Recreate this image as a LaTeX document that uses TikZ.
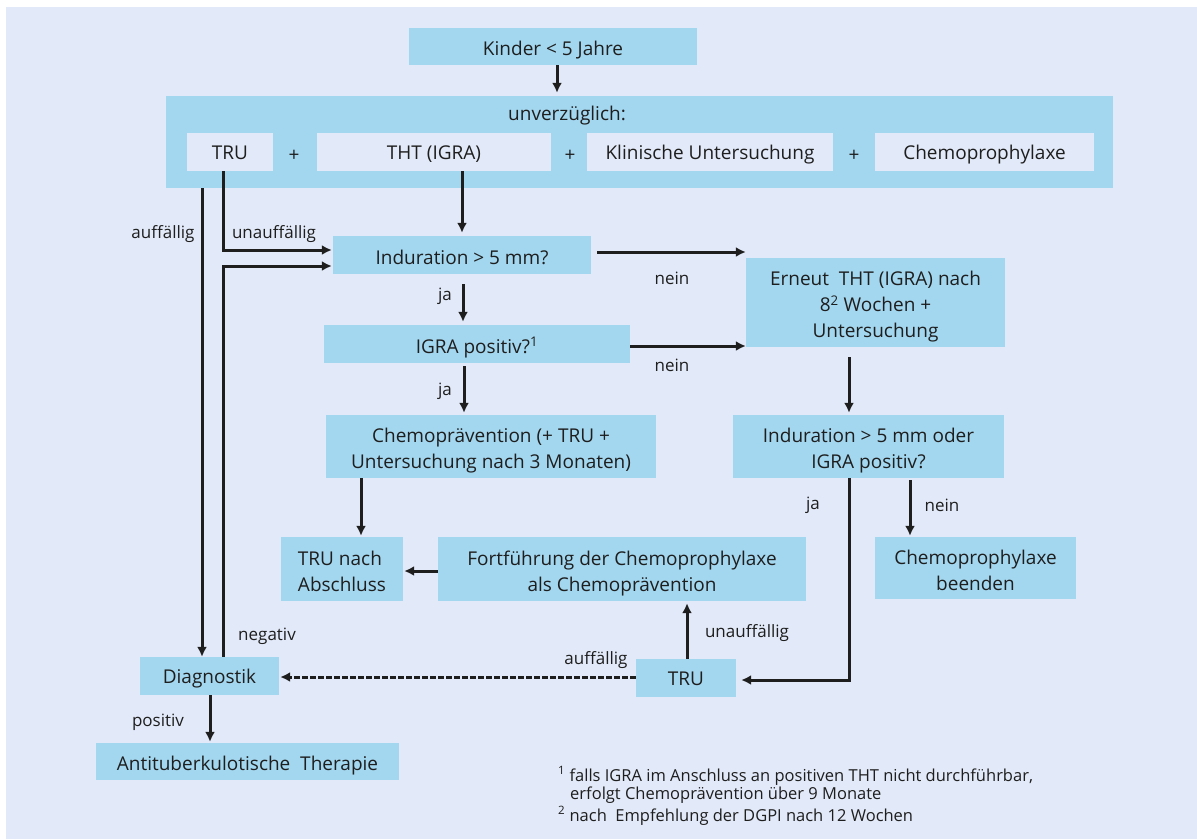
\documentclass[tikz,border=0pt]{standalone}
\usepackage{fontspec}
\setmainfont{Open Sans}
\usetikzlibrary{arrows.meta}
\definecolor{pagebg}{HTML}{E2E9F8}
\definecolor{boxblue}{HTML}{A3D7EF}
\definecolor{ink}{HTML}{1E1E1E}
\begin{document}
\begin{tikzpicture}[x=1pt,y=-1pt,
  every node/.style={text=ink},
  box/.style={fill=boxblue, inner sep=0pt, align=center,
    text height=18pt, text depth=0pt,
    font=\fontsize{19}{26}\selectfont},
  twolines/.style={text height=44pt},
  threelines/.style={text height=70pt},
  subbox/.style={fill=pagebg, inner sep=0pt, align=center,
    minimum height=38pt, text height=15pt, text depth=0pt,
    font=\fontsize{19}{26}\selectfont},
  plain/.style={inner sep=0pt, font=\fontsize{19}{22}\selectfont},
  lbl/.style={inner sep=0pt, font=\fontsize{17}{20}\selectfont},
  note/.style={inner sep=0pt, anchor=base west, font=\fontsize{16.5}{20}\selectfont},
  arr/.style={draw=ink, line width=3pt, -{Latex[length=10pt,width=10pt]}},
  dashedarr/.style={arr, dash pattern=on 5.5pt off 2.5pt}
]
\useasboundingbox (0,0) rectangle (1197,839);
\fill[white] (0,0) rectangle (1197,839);
\fill[pagebg] (6,7) rectangle (1197,839);

% --- boxes ---
\node[box, minimum width=288pt, minimum height=37pt] (kinder) at (553,46.5) {Kinder < 5 Jahre};
\node[box, minimum width=947pt, minimum height=92pt] (big) at (639.5,142) {};
\node[plain, anchor=base] (title) at (567,120) {unverzüglich:};
\node[subbox, minimum width=86pt] (tru1) at (230,152) {TRU};
\node[subbox, minimum width=234pt] (tht) at (434,152) {THT (IGRA)};
\node[subbox, minimum width=246pt] (klin) at (710,152) {Klinische Untersuchung};
\node[subbox, minimum width=219pt] (chemo) at (984.5,152) {Chemoprophylaxe};
\node[plain] (p1) at (294,156) {+};
\node[plain] (p2) at (570,156) {+};
\node[plain] (p3) at (854,156) {+};

\node[box, minimum width=258pt, minimum height=38pt] (ind) at (462,255) {Induration > 5 mm?};
\node[box, minimum width=306pt, minimum height=38pt] (igra) at (477,344) {IGRA positiv?\textsuperscript{1}};
\node[box, twolines, minimum width=330pt, minimum height=63pt] (cp) at (491,446.5) {Chemoprävention (+ TRU +\\Untersuchung nach 3 Monaten)};
\node[box, threelines, minimum width=259pt, minimum height=89pt] (erneut) at (875.5,302.5) {Erneut\ \ THT (IGRA) nach\\8\textsuperscript{2} Wochen +\\Untersuchung};
\node[box, twolines, minimum width=271pt, minimum height=63pt] (ind2) at (868.5,446.5) {Induration > 5 mm oder\\IGRA positiv?};
\node[box, twolines, minimum width=201pt, minimum height=62pt] (beenden) at (975.5,568) {Chemoprophylaxe\\beenden};
\node[box, twolines, minimum width=368pt, minimum height=64pt] (fort) at (622,569) {Fortführung der Chemoprophylaxe\\als Chemoprävention};
\node[box, twolines, minimum width=122pt, minimum height=64pt, align=left] (trunach) at (342,569) {TRU nach\\Abschluss};
\node[box, minimum width=100pt, minimum height=38pt, text height=15pt] (tru2) at (686,678) {TRU};
\node[box, minimum width=139pt, minimum height=38pt, text height=14pt] (diag) at (209.5,676) {Diagnostik};
\node[box, minimum width=303pt, minimum height=37pt] (anti) at (247.5,761.5) {Antituberkulotische\ \ Therapie};

% --- vertical line positions ---
\coordinate (xa) at (202,0);
\coordinate (xb) at (223,0);
\coordinate (xc) at (849,0);
\coordinate (xd) at (361,0);
\coordinate (xe) at (910,0);
\coordinate (xf) at (687,0);
\coordinate (xg) at (210,0);

% --- connectors ---
\draw[arr, shorten >=3pt] ([xshift=4pt]kinder.south) -- ([xshift=4pt]kinder.south |- big.north);
\draw[arr] (tru1.south -| xb) |- ([yshift=5pt, xshift=-1pt]ind.west);
\draw[arr] (big.south -| xa) -- (diag.north -| xa);
\draw[arr] (diag.north -| xb) |- ([yshift=-11pt, xshift=-1pt]ind.west);
\draw[arr, shorten >=3pt] (tht.south -| ind.north) -- (ind.north);
\draw[arr, shorten <=6pt] ([yshift=3pt]ind.east) -- ([yshift=3pt]ind.east -| erneut.west);
\draw[arr] ([yshift=-2pt]igra.east) -- ([yshift=-2pt]igra.east -| erneut.west);
\draw[arr, shorten <=10pt, shorten >=3pt] ([xshift=1pt]ind.south) -- ([xshift=1pt]ind.south |- igra.north);
\draw[arr, shorten <=3pt, shorten >=2pt] (igra.south -| cp.north) ++(-27pt,0) coordinate (jb) -- (jb |- cp.north);
\draw[arr, shorten <=10pt, shorten >=2pt] (erneut.south -| xc) -- (ind2.north -| xc);
\draw[arr, shorten >=5pt] (ind2.south -| xc) |- ([yshift=-2pt]tru2.east);
\draw[arr, shorten <=2pt, shorten >=1pt] (ind2.south -| xe) -- (beenden.north -| xe);
\draw[arr, shorten >=1pt] (cp.south -| xd) -- (trunach.north -| xd);
\draw[arr, shorten >=1pt] ([yshift=-2pt]fort.west) -- ([yshift=-2pt]fort.west -| trunach.east);
\draw[arr, shorten >=2pt] (tru2.north -| xf) -- (fort.south -| xf);
\draw[dashedarr, shorten >=1pt] ([yshift=1pt]tru2.west) -- ([yshift=1pt]tru2.west -| diag.east);
\draw[arr, shorten >=1pt] (diag.south -| xg) -- (anti.north -| xg);

% --- connector labels ---
\node[lbl] (l1) at (163,234) {auffällig};
\node[lbl] (l2) at (274,234) {unauffällig};
\node[lbl] (l3) at (672,278) {nein};
\node[lbl] (l4) at (672,365) {nein};
\node[lbl] (l5) at (445,296) {ja};
\node[lbl] (l6) at (445,391) {ja};
\node[lbl] (l7) at (813,505) {ja};
\node[lbl] (l8) at (942,505) {nein};
\node[lbl] (l9) at (747,633) {unauffällig};
\node[lbl] (l10) at (596,660) {auffällig};
\node[lbl] (l11) at (267,636) {negativ};
\node[lbl] (l12) at (158,722) {positiv};

% --- footnotes ---
\node[note] (fn1) at (558,781) {\textsuperscript{1} falls IGRA im Anschluss an positiven THT nicht durchführbar,};
\node[note] (fn1b) at (570,799.5) {erfolgt Chemoprävention über 9 Monate};
\node[note] (fn2) at (558,821) {\textsuperscript{2} nach\ \ Empfehlung der DGPI nach 12 Wochen};
\end{tikzpicture}
\end{document}
